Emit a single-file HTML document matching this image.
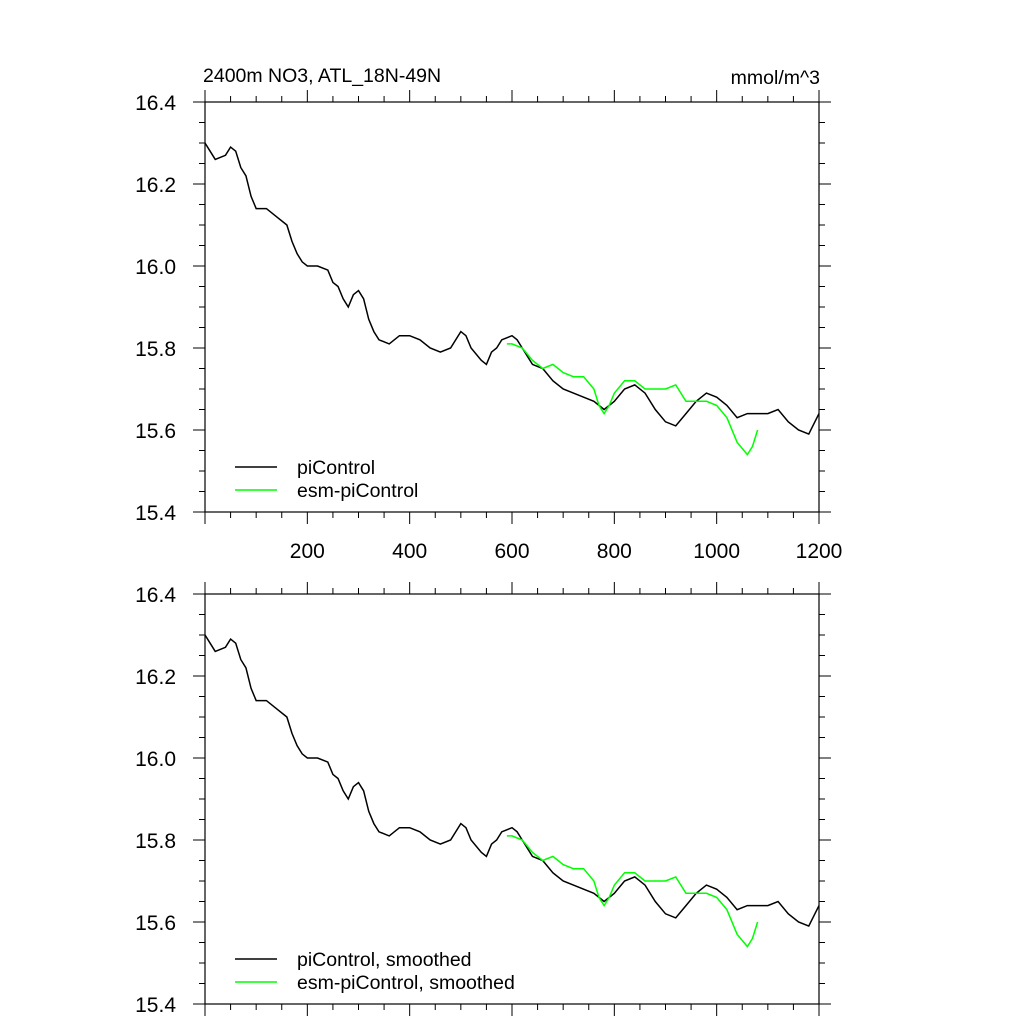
<!DOCTYPE html>
<html><head><meta charset="utf-8"><style>
body{margin:0;background:#fff}
svg{display:block;font-family:"Liberation Sans",sans-serif}
</style></head><body>
<svg id="c" width="1024" height="1024" xmlns="http://www.w3.org/2000/svg">
<text x="203" y="82" font-size="19.5">2400m NO3, ATL_18N-49N</text>
<text x="820" y="84" font-size="19.5" text-anchor="end">mmol/m^3</text>
</svg>
<script>
const piYears=[0,10,20,40,50,60,70,80,90,100,120,140,160,170,180,190,200,220,240,250,260,270,280,290,300,310,320,330,340,360,380,400,420,440,460,480,500,510,520,540,550,560,570,580,600,610,620,640,660,680,700,720,740,760,780,800,820,840,860,880,900,920,940,960,980,1000,1020,1040,1060,1080,1100,1120,1140,1160,1180,1200];
const piValues=[16.30,16.28,16.26,16.27,16.29,16.28,16.24,16.22,16.17,16.14,16.14,16.12,16.10,16.06,16.03,16.01,16.00,16.00,15.99,15.96,15.95,15.92,15.90,15.93,15.94,15.92,15.87,15.84,15.82,15.81,15.83,15.83,15.82,15.80,15.79,15.80,15.84,15.83,15.80,15.77,15.76,15.79,15.80,15.82,15.83,15.82,15.80,15.76,15.75,15.72,15.70,15.69,15.68,15.67,15.65,15.67,15.70,15.71,15.69,15.65,15.62,15.61,15.64,15.67,15.69,15.68,15.66,15.63,15.64,15.64,15.64,15.65,15.62,15.60,15.59,15.64];
const esmYears=[590,600,620,640,660,680,700,720,740,760,770,780,790,800,820,840,860,880,900,920,940,960,980,1000,1020,1040,1060,1070,1080];
const esmValues=[15.81,15.81,15.80,15.77,15.75,15.76,15.74,15.73,15.73,15.70,15.66,15.64,15.66,15.69,15.72,15.72,15.70,15.70,15.70,15.71,15.67,15.67,15.67,15.66,15.63,15.57,15.54,15.56,15.60];
const yTicks=[15.4,15.6,15.8,16.0,16.2,16.4];
const xTicks=[200,400,600,800,1000,1200];
const svg=document.getElementById('c');
const NS='http://www.w3.org/2000/svg';
const X0=205,X1=819;
const xs=v=>X0+(v/1200)*(X1-X0);
function mk(tag,attrs,parent){const e=document.createElementNS(NS,tag);for(const k in attrs)e.setAttribute(k,attrs[k]);(parent||svg).appendChild(e);return e;}
function panel(top,bot,idx,labelsX,leg){
  const ys=v=>top+(16.4-v)/1.0*(bot-top);
  const g=mk('g',{});
  
  
  const fr=mk('rect',{x:X0,y:top,width:X1-X0,height:bot-top,fill:'none',stroke:'#000','stroke-width':1.2},g);
  
  
  let d='';
  for(let v=0;v<=1200;v+=50){const x=xs(v);const L=(v%200===0)?12:6;d+=`M${x},${top}v${-L}M${x},${bot}v${L}`;}
  for(let k=0;k<=20;k++){const v=15.4+k*0.05;const y=ys(v);const L=(k%4===0)?12:6;d+=`M${X0},${y}h${-L}M${X1},${y}h${L}`;}
  const tk=mk('path',{d:d,stroke:'#000','stroke-width':1,fill:'none'},g);
  
  
  yTicks.forEach(v=>{const t=mk('text',{x:176,y:ys(v)+8,'font-size':21,'text-anchor':'end'},g);t.textContent=v.toFixed(1);
    
    });
  if(labelsX)xTicks.forEach(v=>{const t=mk('text',{x:xs(v),y:bot+46,'font-size':21,'text-anchor':'middle'},g);t.textContent=v;
    
    });
  const pl=mk('polyline',{points:piYears.map((v,i)=>xs(v)+','+ys(piValues[i])).join(' '),fill:'none',stroke:'#000','stroke-width':1.5},g);
  
  
  const el=mk('polyline',{points:esmYears.map((v,i)=>xs(v)+','+ys(esmValues[i])).join(' '),fill:'none',stroke:'#00ff00','stroke-width':1.5},g);
  
  
  [[leg[0],'#000',bot-45],[leg[1],'#00ff00',bot-22]].forEach(([txt,col,y])=>{
    const l=mk('line',{x1:235,x2:277,y1:y,y2:y,stroke:col,'stroke-width':1.5},g);
    
    
    const t=mk('text',{x:297,y:y+7,'font-size':19.5},g);t.textContent=txt;
    
    
  });
}
panel(102,512,'top',true,['piControl','esm-piControl']);
panel(594,1004,'bottom',false,['piControl, smoothed','esm-piControl, smoothed']);
</script>
</body></html>
